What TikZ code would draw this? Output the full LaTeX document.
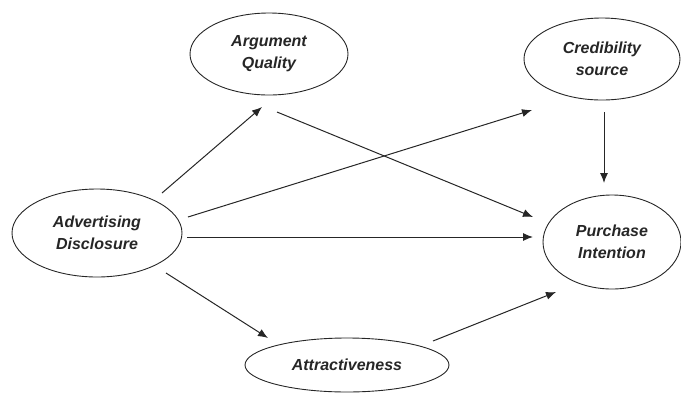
\documentclass[tikz,border=0pt]{standalone}
\usepackage{fontspec}
\setmainfont{Liberation Sans}
\usetikzlibrary{shapes.geometric,arrows.meta}
\begin{document}
\begin{tikzpicture}[x=1pt,y=-1pt,
  var/.style={ellipse,draw=black!85,line width=0.9pt,inner sep=0pt,align=center,
    text=black!85,font=\fontsize{16}{22}\selectfont\bfseries\itshape},
  arr/.style={draw=black!85,line width=1pt,-{Latex[length=10pt,width=8pt]}}]
\useasboundingbox (0,0) rectangle (681,392);
\node[var,minimum width=158pt,minimum height=82pt] (aq) at (269,54) {Argument\\Quality};
\node[var,minimum width=156pt,minimum height=82pt] (cs) at (602,59) {Credibility\\source};
\node[var,minimum width=170pt,minimum height=88pt] (ad) at (97,233) {Advertising\\Disclosure};
\node[var,minimum width=138pt,minimum height=94pt] (pi) at (612,242) {Purchase\\Intention};
\node[var,minimum width=204pt,minimum height=54pt] (at) at (347,365) {Attractiveness};
\draw[arr] ([shift={(65,-40)}]ad.center) -- ([shift={(-7,53)}]aq.center);
\draw[arr] ([shift={(8,58)}]aq.center) -- ([shift={(-79,-25)}]pi.center);
\draw[arr] ([shift={(91,-16)}]ad.center) -- ([shift={(-70,51)}]cs.center);
\draw[arr] ([shift={(90,4)}]ad.center) -- ([shift={(-79,-5)}]pi.center);
\draw[arr] ([shift={(2,53)}]cs.center) -- ([shift={(-8,-59)}]pi.center);
\draw[arr] ([shift={(69,40)}]ad.center) -- ([shift={(-79,-27)}]at.center);
\draw[arr] ([shift={(86,-24)}]at.center) -- ([shift={(-56,50)}]pi.center);
\end{tikzpicture}
\end{document}
